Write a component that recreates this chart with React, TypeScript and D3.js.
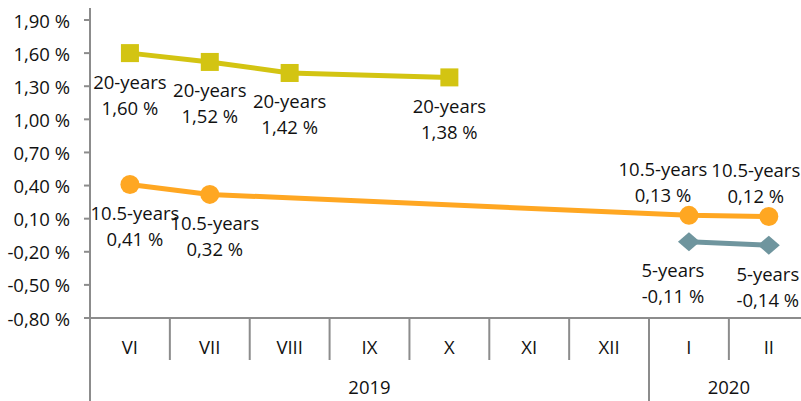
import React from "react";
import * as d3 from "d3";

const months = ["VI", "VII", "VIII", "IX", "X", "XI", "XII", "I", "II"];
const years = [
  { label: "2019", from: "VI", to: "XII" },
  { label: "2020", from: "I", to: "II" },
];
const yTicks = [1.9, 1.6, 1.3, 1.0, 0.7, 0.4, 0.1, -0.2, -0.5, -0.8];

const bond20 = [1.6, 1.52, 1.42, null, 1.38, null, null, null, null];
const bond105 = [0.41, 0.32, null, null, null, null, null, 0.13, 0.12];
const bond5 = [null, null, null, null, null, null, null, -0.11, -0.14];

const series = [
  { key: "20", name: "20-years", values: bond20, color: "#d3c412", marker: "square" },
  { key: "105", name: "10.5-years", values: bond105, color: "#ffa722", marker: "circle" },
  { key: "5", name: "5-years", values: bond5, color: "#6f959e", marker: "diamond" },
];

// label tweaks so the data labels don't collide (Excel-style manual nudges)
const labelNudge: Record<string, { dx: number; above?: boolean }> = {
  "105-VI": { dx: 5 },
  "105-VII": { dx: 5 },
  "105-I": { dx: -26, above: true },
  "105-II": { dx: -13, above: true },
  "5-I": { dx: -16 },
  "5-II": { dx: -1 },
};

const W = 801;
const H = 401;
const left = 90;
const band = 79.86;
const top = 20;
const bottom = 318;
const font = "'Open Sans', sans-serif";
const fs = 18.5;
const axisColor = "#8c8c8c";

const fmt = (v: number) => d3.format(".2f")(v).replace(".", ",").replace("\u2212", "-") + " %";

export default function App() {
  const x = d3
    .scaleBand<string>()
    .domain(months)
    .range([left, left + band * months.length])
    .paddingInner(0)
    .paddingOuter(0);
  const y = d3.scaleLinear().domain([-0.8, 1.9]).range([bottom, top]);
  const cx = (m: string) => (x(m) as number) + x.bandwidth() / 2;

  const line = d3
    .line<{ m: string; v: number }>()
    .x((d) => cx(d.m))
    .y((d) => y(d.v));

  const marker = (type: string, px: number, py: number, color: string, k: string) => {
    if (type === "square")
      return <rect key={k} x={px - 9} y={py - 9} width={18} height={18} fill={color} />;
    if (type === "circle") return <circle key={k} cx={px} cy={py} r={9.5} fill={color} />;
    return (
      <path
        key={k}
        d={`M${px - 11},${py} L${px},${py - 9.5} L${px + 11},${py} L${px},${py + 9.5} Z`}
        fill={color}
      />
    );
  };

  return (
    <svg
      width={W}
      height={H}
      style={{ position: "absolute", left: 0, top: 0, background: "#fff" }}
      fontFamily={font}
      fontSize={fs}
    >
      {/* y axis */}
      <line x1={left} x2={left} y1={top - 12} y2={H} stroke={axisColor} strokeWidth={2} />
      {yTicks.map((t) => (
        <g key={t}>
          <line x1={left - 6} x2={left} y1={y(t)} y2={y(t)} stroke={axisColor} strokeWidth={2} />
          <text x={70} y={y(t)} textAnchor="end" dominantBaseline="central" fill="#111">
            {fmt(t)}
          </text>
        </g>
      ))}

      {/* x axis */}
      <line x1={left - 6} x2={W} y1={bottom} y2={bottom} stroke={axisColor} strokeWidth={2} />
      {months.map((m, i) => {
        const xl = x(m) as number;
        const isYearStart = years.some((yr) => yr.from === m);
        return (
          <g key={m}>
            {i > 0 && (
              <line
                x1={xl}
                x2={xl}
                y1={bottom}
                y2={isYearStart ? H : 360}
                stroke={axisColor}
                strokeWidth={2}
              />
            )}
            <text x={cx(m)} y={346} textAnchor="middle" dominantBaseline="central" fill="#111">
              {m}
            </text>
          </g>
        );
      })}
      {years.map((yr) => {
        const x0 = x(yr.from) as number;
        const x1 = (x(yr.to) as number) + x.bandwidth();
        return (
          <text
            key={yr.label}
            x={(x0 + x1) / 2}
            y={386}
            textAnchor="middle"
            dominantBaseline="central"
            fill="#111"
          >
            {yr.label}
          </text>
        );
      })}

      {/* series */}
      {series.map((s) => {
        const pts = months
          .map((m, i) => ({ m, v: s.values[i] }))
          .filter((d) => d.v !== null) as { m: string; v: number }[];
        return (
          <g key={s.key}>
            <path d={line(pts) || ""} fill="none" stroke={s.color} strokeWidth={5} />
            {pts.map((p) => marker(s.marker, cx(p.m), y(p.v), s.color, p.m))}
            {pts.map((p) => {
              const n = labelNudge[`${s.key}-${p.m}`] || { dx: 0 };
              const px = cx(p.m) + n.dx;
              const py = y(p.v);
              const y1 = n.above ? py - 47 : py + 28;
              const y2 = n.above ? py - 21 : py + 54;
              return (
                <g key={"l" + p.m} fill="#111" textAnchor="middle">
                  <text x={px} y={y1} dominantBaseline="central">
                    {s.name}
                  </text>
                  <text x={px} y={y2} dominantBaseline="central">
                    {fmt(p.v)}
                  </text>
                </g>
              );
            })}
          </g>
        );
      })}
    </svg>
  );
}
